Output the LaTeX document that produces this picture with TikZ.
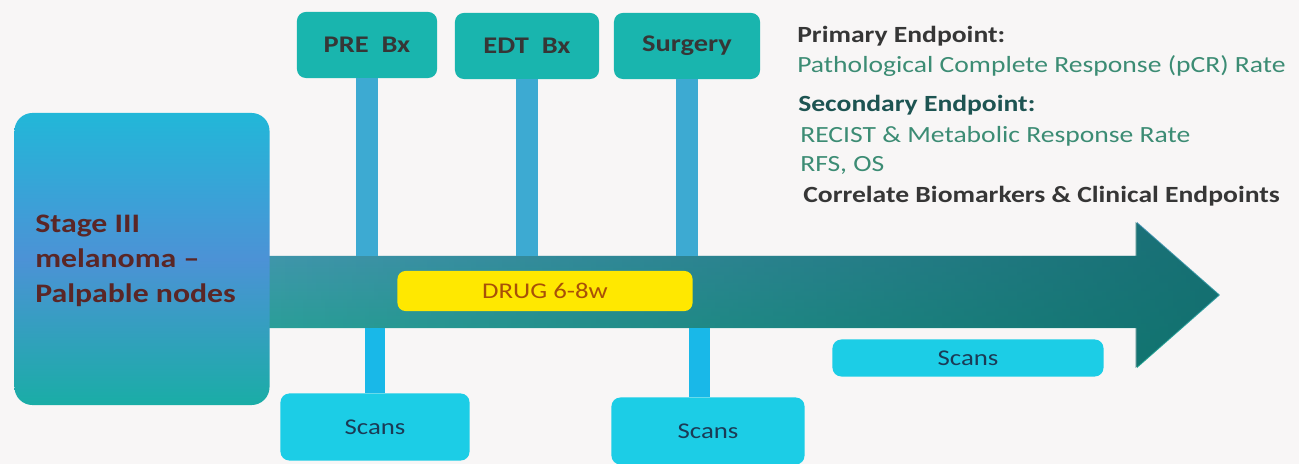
\documentclass[tikz,border=0pt]{standalone}
\usepackage{fontspec}
\setmainfont{Carlito}[FakeStretch=1.19]
\usepackage{tikz}
\usetikzlibrary{fadings}
\usepackage{xcolor}

\definecolor{bgpaper}{HTML}{F8F6F6}
\definecolor{boxteal}{HTML}{19B5AE}
\definecolor{scancyan}{HTML}{1CCDE6}
\definecolor{scantext}{HTML}{1B3A55}
\definecolor{stemblue}{HTML}{3DAAD2}
\definecolor{drugyellow}{HTML}{FFE800}
\definecolor{drugtext}{HTML}{A85008}
\definecolor{stagetext}{HTML}{5A2626}
\definecolor{darkgrey}{HTML}{363636}
\definecolor{headteal}{HTML}{1D5452}
\definecolor{endgreen}{HTML}{3C8C74}
\definecolor{arrowdark}{HTML}{0E6868}
\definecolor{arrowtop}{HTML}{4A92B4}
\definecolor{arrowbot}{HTML}{1FA48F}
\definecolor{stagetop}{HTML}{22B7D8}
\definecolor{stagemid}{HTML}{4C92D6}
\definecolor{stagebot}{HTML}{1AADA6}

\tikzfading[name=fadeleft, left color=transparent!100, right color=transparent!15]

\begin{document}
\begin{tikzpicture}[x=0.025cm, y=-0.025cm,
    every node/.style={inner sep=0pt},
    topbox/.style={fill=boxteal, rounded corners=0.22cm, minimum height=1.65cm,
        font=\fontsize{17}{20}\selectfont\bfseries, text=darkgrey},
    scanbox/.style={fill=scancyan, rounded corners=0.22cm,
        font=\fontsize{16}{19}\selectfont, text=scantext},
    upstem/.style={draw=stemblue, line width=0.56cm},
    downstem/.style={draw=scancyan!90!blue, line width=0.52cm},
    endhead/.style={anchor=base west, font=\fontsize{16.5}{19}\selectfont\bfseries},
    endline/.style={anchor=base west, font=\fontsize{16.5}{19}\selectfont, text=endgreen}]

    % ==========================================
    % BACKGROUND
    % ==========================================
    \fill[bgpaper] (0,0) rectangle (1299,464);
    \useasboundingbox (0,0) rectangle (1299,464);

    % ==========================================
    % TIMELINE ARROW
    % ==========================================
    \def\arrowpath{(262,256) -- (1137,256) -- (1137,222) -- (1220,295) -- (1137,368) -- (1137,328) -- (262,328) -- cycle}
    \coordinate (shafttop) at (262,256); % upper edge of the shaft
    \coordinate (shaftbot) at (262,328); % lower edge of the shaft

    \shade[top color=arrowtop, bottom color=arrowbot] \arrowpath;
    \fill[arrowdark, path fading=fadeleft] \arrowpath;

    % ==========================================
    % PATIENT BOX (LEFT)
    % ==========================================
    % middle color has to come after top and bottom color
    \node[rounded corners=0.45cm, minimum width=6.375cm, minimum height=7.3cm,
        top color=stagetop, bottom color=stagebot, middle color=stagemid]
        (stage) at (142,259) {};
    \node[anchor=west, align=left, text=stagetext,
        font=\fontsize{19}{25}\selectfont\bfseries] (stagetxt) at (35,261)
        {Stage III\\ melanoma --\\ Palpable nodes};

    % ==========================================
    % EVENTS ABOVE THE ARROW
    % ==========================================
    \node[topbox, minimum width=3.5cm] (pre) at (367,45) {PRE\ \ Bx};
    \node[topbox, minimum width=3.6cm] (edt) at (527,46) {EDT\ \ Bx};
    \node[topbox, minimum width=3.65cm] (surg) at (687,46) {Surgery};

    \draw[upstem] (pre.south) -- (pre.south |- shafttop);
    \draw[upstem] (edt.south) -- (edt.south |- shafttop);
    \draw[upstem] (surg.south) -- (surg.south |- shafttop);

    % Treatment window on the shaft
    \node[fill=drugyellow, rounded corners=0.2cm, minimum width=7.375cm, minimum height=1cm,
        font=\fontsize{16}{19}\selectfont, text=drugtext] (drug) at (545,291) {DRUG 6-8w};

    % ==========================================
    % SCANS BELOW THE ARROW
    % ==========================================
    \node[scanbox, minimum width=4.725cm, minimum height=1.675cm] (scansA) at (375,427) {Scans};
    \node[scanbox, minimum width=4.825cm, minimum height=1.675cm] (scansB) at (708,431) {Scans};
    \node[scanbox, minimum width=6.775cm, minimum height=0.925cm] (scansC) at (968,358) {Scans};

    \draw[downstem] (scansA.north) -- (scansA.north |- shaftbot);
    \draw[downstem] ([xshift=-0.22cm]scansB.north) -- ([xshift=-0.22cm]scansB.north |- shaftbot);

    % ==========================================
    % ENDPOINTS (RIGHT)
    % ==========================================
    \node[endhead, text=darkgrey] (prim) at (797,43) {Primary Endpoint:};
    \node[endline] (primtxt) at (797,73) {Pathological Complete Response (pCR) Rate};
    \node[endhead, text=headteal] (sec) at (798,112) {Secondary Endpoint:};
    \node[endline] (sectxtA) at (800,143) {RECIST \& Metabolic Response Rate};
    \node[endline] (sectxtB) at (800,172) {RFS, OS};
    \node[endhead, text=darkgrey] (corr) at (803,203) {Correlate Biomarkers \& Clinical Endpoints};
\end{tikzpicture}
\end{document}
